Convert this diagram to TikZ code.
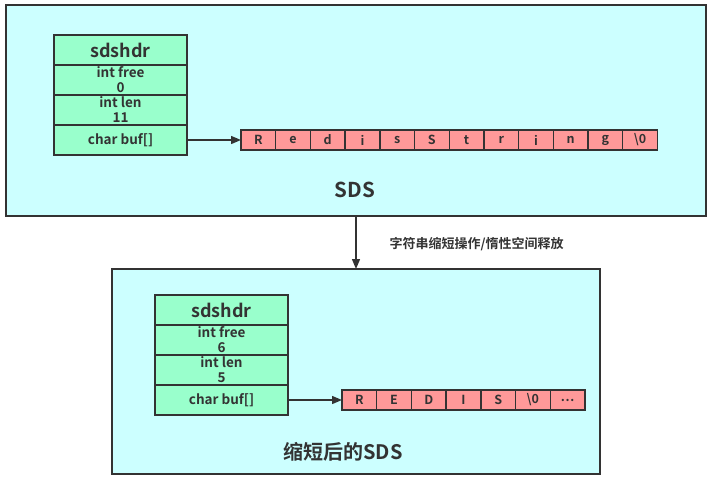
\documentclass[tikz,border=0pt]{standalone}
\usepackage{fontspec}
\setmainfont{Noto Sans CJK SC}[BoldFont={Noto Sans CJK SC Bold}]
\usetikzlibrary{positioning,arrows.meta}

\definecolor{sdsbg}{HTML}{CCFFFF}
\definecolor{hdrgreen}{HTML}{99FFCC}
\definecolor{bufred}{HTML}{FF9999}
\definecolor{edge}{HTML}{333333}

\tikzset{
  sdsbox/.style={draw=edge, line width=1.6pt, fill=sdsbg, anchor=north west, outer sep=0pt},
  hdrrow/.style={draw=edge, line width=1.4pt, fill=hdrgreen, minimum width=133, minimum height=30,
    inner sep=0pt, outer sep=0pt, align=center, text=edge, font=\bfseries\fontsize{13.5}{15}\selectfont},
  bufcell/.style={draw=edge, line width=1.4pt, fill=bufred, minimum width=34.7, minimum height=20,
    inner sep=0pt, outer sep=0pt, text=edge, font=\bfseries\fontsize{12.5}{13}\selectfont},
  ptr/.style={draw=edge, line width=1.4pt, -{Triangle[length=10pt,width=8pt]}}
}

\begin{document}
\begin{tikzpicture}[x=1pt, y=-1pt]
    \useasboundingbox (0,0) rectangle (710,480);

    % SDS avant
    \node[sdsbox, minimum width=700, minimum height=211] (top) at (6,5) {};
    \node[hdrrow, anchor=north west, font=\bfseries\fontsize{18}{20}\selectfont] (tname) at (54,35) {sdshdr};
    \node[hdrrow, below=0pt of tname] (tfree) {int free\\0};
    \node[hdrrow, below=0pt of tfree] (tlen) {int len\\11};
    \node[hdrrow, below=0pt of tlen] (tbuf) {char buf[]};
    \foreach \ch [count=\i] in {R,e,d,i,s,S,t,r,i,n,g,\textbackslash0}
        \node[bufcell, anchor=west] (tc\i) at ({241+34.7*(\i-1)},140) {\ch};
    \draw[ptr] (tbuf.east) -- (tc1.west);
    \node[text=edge, font=\bfseries\fontsize{20.5}{24}\selectfont] (ttitle) at (355,190) {SDS};

    % SDS apres
    \node[sdsbox, minimum width=488, minimum height=205] (bot) at (112,269) {};
    \node[hdrrow, anchor=north west, font=\bfseries\fontsize{18}{20}\selectfont] (bname) at (155,295) {sdshdr};
    \node[hdrrow, below=0pt of bname] (bfree) {int free\\6};
    \node[hdrrow, below=0pt of bfree] (blen) {int len\\5};
    \node[hdrrow, below=0pt of blen] (bbuf) {char buf[]};
    \foreach \ch [count=\i] in {R,E,D,I,S,\textbackslash0,\ldots}
        \node[bufcell, anchor=west] (bc\i) at ({342+34.7*(\i-1)},400) {\ch};
    \draw[ptr] (bbuf.east) -- (bc1.west);
    \node[text=edge, font=\bfseries\fontsize{20}{24}\selectfont] (btitle) at (343,452) {缩短后的SDS};

    % Operation
    \draw[ptr] (top.south) -- (bot.north);
    \node[anchor=west, text=edge, font=\bfseries\fontsize{13}{15}\selectfont] (oplabel) at (386,244) {字符串缩短操作/惰性空间释放};
\end{tikzpicture}
\end{document}
